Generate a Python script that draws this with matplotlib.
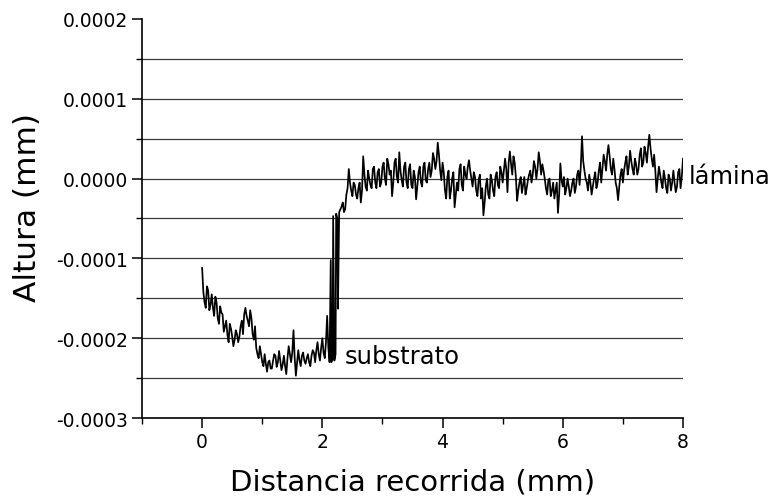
import numpy as np
import matplotlib
matplotlib.use("Agg")
import matplotlib.pyplot as plt

# ---- data (altura in units of 1e-4 mm) ----
dist_pre = np.round(np.arange(0, 2.121, 0.04), 2)
alt_pre = [-1.12, -1.55, -1.35, -1.65, -1.45, -1.72, -1.55, -1.82, -1.68, -1.92,
           -1.78, -2.05, -1.88, -2.10, -1.90, -2.05, -1.85, -1.95, -1.62, -1.78,
           -1.65, -1.95, -1.85, -2.20, -2.10, -2.30, -2.20, -2.42, -2.28, -2.38,
           -2.20, -2.36, -2.16, -2.40, -2.22, -2.45, -2.10, -2.30, -1.90, -2.47,
           -2.15, -2.35, -2.18, -2.32, -2.20, -2.35, -2.15, -2.30, -2.05, -2.28,
           -2.00, -2.25, -1.72, -2.30]
dist_pre_mid = np.round(np.arange(0.02, 2.101, 0.04), 2)
alt_pre_mid = [-1.42, -1.62, -1.40, -1.58, -1.62, -1.48, -1.75, -1.60, -1.70, -1.85,
               -1.95, -1.82, -1.98, -2.02, -1.95, -1.98, -1.78, -1.70, -1.72, -1.85,
               -1.75, -2.02, -2.12, -2.25, -2.20, -2.35, -2.32, -2.30, -2.38, -2.28,
               -2.22, -2.30, -2.28, -2.33, -2.35, -2.25, -2.20, -2.18, -2.25, -2.30,
               -2.28, -2.22, -2.28, -2.25, -2.30, -2.22, -2.18, -2.15, -2.20, -2.12,
               -2.18, -2.05, -2.12]

dist_step = [2.14, 2.15, 2.17, 2.18, 2.20, 2.22, 2.23, 2.25, 2.26, 2.28]
alt_step = [-1.02, -2.30, -2.25, -0.47, -2.28, -2.20, -0.44, -0.50, -1.63, -0.42]

dist_post = np.round(np.arange(2.32, 8.001, 0.04), 2)
alt_post = [-0.35, -0.42, -0.20, 0.12, -0.15, -0.05, -0.20, -0.12, -0.30, 0.28,
            -0.10, 0.10, -0.08, 0.12, -0.05, 0.08, -0.10, 0.15, 0.00, 0.25,
            0.05, -0.22, 0.20, 0.02, 0.33, -0.02, 0.15, -0.05, 0.12, -0.08,
            0.10, -0.26, 0.08, -0.05, 0.15, -0.02, 0.12, 0.02, 0.32, 0.12,
            0.45, 0.10, 0.20, -0.15, 0.02, -0.25, 0.00, -0.36, -0.05, 0.12,
            -0.08, 0.15, 0.00, 0.23, 0.00, 0.08, -0.15, -0.02, -0.25, -0.46,
            -0.10, -0.20, 0.05, -0.15, 0.02, -0.08, 0.15, -0.05, 0.25, -0.17,
            0.34, 0.05, 0.20, -0.28, -0.05, -0.18, 0.02, -0.12, 0.05, -0.05,
            0.22, 0.00, 0.33, 0.05, 0.10, -0.12, -0.02, -0.22, -0.05, -0.15,
            -0.43, 0.19, -0.10, -0.20, 0.00, -0.22, -0.05, -0.18, 0.05, -0.08,
            0.53, 0.10, -0.05, 0.05, -0.20, 0.00, -0.12, 0.10, -0.05, 0.30,
            0.10, 0.42, 0.12, 0.25, -0.05, -0.27, 0.05, -0.05, 0.20, 0.05,
            0.35, 0.12, 0.25, 0.05, 0.30, 0.15, 0.40, 0.20, 0.55, 0.25,
            0.30, -0.17, 0.15, -0.05, 0.10, -0.12, 0.05, -0.15, 0.10, -0.17,
            0.08, -0.12, 0.25]
dist_post_mid = np.round(np.arange(2.34, 7.981, 0.04), 2)
alt_post_mid = [-0.30, -0.38, -0.12, -0.05, -0.22, -0.08, -0.25, -0.05, -0.15, 0.05,
                -0.15, 0.00, -0.12, 0.15, -0.12, 0.12, -0.05, 0.20, -0.08, 0.18,
                0.10, -0.05, 0.25, -0.05, 0.10, -0.10, 0.20, -0.12, 0.18, -0.12,
                0.02, -0.10, 0.15, -0.10, 0.20, -0.05, 0.20, 0.10, 0.25, 0.22,
                0.30, -0.02, 0.08, -0.25, 0.10, -0.15, 0.08, -0.20, -0.15, 0.18,
                -0.15, 0.05, 0.15, 0.10, -0.10, 0.02, -0.22, 0.05, -0.12, -0.30,
                0.00, -0.25, -0.02, -0.22, 0.08, -0.12, 0.08, 0.10, 0.12, 0.20,
                0.18, 0.28, 0.02, -0.15, 0.02, -0.08, -0.20, -0.02, 0.10, 0.05,
                0.15, 0.12, 0.22, 0.18, 0.00, -0.20, 0.00, -0.15, -0.25, -0.05,
                -0.20, -0.02, 0.02, -0.12, -0.10, -0.15, 0.00, -0.10, 0.10, 0.15,
                0.22, 0.00, -0.15, -0.05, -0.10, 0.08, -0.05, 0.20, 0.12, 0.22,
                0.30, 0.28, 0.05, 0.12, -0.12, -0.10, 0.12, 0.10, 0.28, 0.15,
                0.22, 0.05, 0.18, 0.12, 0.38, 0.20, 0.32, 0.40, 0.38, 0.15,
                0.10, 0.00, 0.05, -0.12, 0.00, -0.18, 0.00, -0.05, -0.05, -0.10,
                0.12, 0.02]

x_ticks = [0, 2, 4, 6, 8]
x_minor = [-1, 1, 3, 5, 7]
y_ticks = [-0.0003, -0.0002, -0.0001, 0.0, 0.0001, 0.0002]
y_tick_labels = ["-0.0003", "-0.0002", "-0.0001", "0.0000", "0.0001", "0.0002"]
grid_levels = [-0.00025, -0.0002, -0.00015, -0.0001, -0.00005, 0.0,
               0.00005, 0.0001, 0.00015]

distancia = np.concatenate([dist_pre, dist_pre_mid, dist_step, dist_post, dist_post_mid])
altura = np.concatenate([alt_pre, alt_pre_mid, alt_step, alt_post, alt_post_mid]) * 1e-4
order = np.argsort(distancia, kind="stable")
distancia = distancia[order]
altura = altura[order]

fig = plt.figure(figsize=(7.74, 5.02), dpi=100)
ax = fig.add_axes([0.1835, 0.1653, 0.6989, 0.7949])

for g in grid_levels:
    ax.axhline(g, color="#3a3a3a", lw=0.9, zorder=1)

ax.plot(distancia, altura, color="black", lw=1.25, zorder=3)

ax.set_xlim(-1, 8)
ax.set_ylim(-0.0003, 0.0002)
ax.set_xticks(x_ticks)
ax.set_xticks(x_minor, minor=True)
ax.set_yticks(y_ticks)
ax.set_yticklabels(y_tick_labels)
ax.set_yticks(grid_levels, minor=True)

for s in ["top", "right"]:
    ax.spines[s].set_visible(False)
for s in ["left", "bottom"]:
    ax.spines[s].set_linewidth(1.2)

ax.tick_params(axis="both", which="major", direction="out", length=7, width=1.1,
               labelsize=13.5, pad=3)
ax.tick_params(axis="both", which="minor", direction="out", length=4, width=1.0)

ax.set_xlabel("Distancia recorrida (mm)", fontsize=21, labelpad=12)
ax.set_ylabel("Altura (mm)", fontsize=22.5)
ax.yaxis.set_label_coords(-0.185, 0.531)

ax.text(8.09, 0.000003, "lámina", fontsize=17.5, va="center", ha="left",
        clip_on=False)
ax.text(2.38, -0.000222, "substrato", fontsize=17.5, va="center", ha="left")

fig.savefig("out.png", dpi=100)
